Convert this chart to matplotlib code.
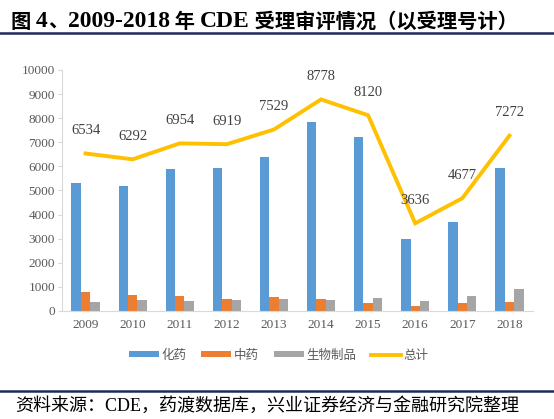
import numpy as np
import matplotlib
matplotlib.use("Agg")
from matplotlib import pyplot as plt
from matplotlib.lines import Line2D

plt.rcParams['font.family'] = ['Liberation Serif', 'Noto Sans CJK SC', 'DejaVu Sans']

years = ['2009', '2010', '2011', '2012', '2013', '2014', '2015', '2016', '2017', '2018']
chem = [5323, 5174, 5892, 5947, 6403, 7842, 7220, 2988, 3707, 5946]
tcm = [775, 664, 622, 512, 595, 484, 346, 221, 318, 373]
bio = [373, 456, 415, 456, 512, 443, 540, 415, 622, 899]
total = [6534, 6292, 6954, 6919, 7529, 8778, 8120, 3636, 4677, 7272]
series_names = ['化药', '中药', '生物制品', '总计']

# title pieces: (text, is_cjk)
title_parts = [('图', True), (' 4', False), ('、', True), ('2009-2018', False),
               (' 年 ', True), ('CDE', False), (' 受理审评情况（以受理号计）', True)]
source = '资料来源：CDE，药渡数据库，兴业证券经济与金融研究院整理'

fig = plt.figure(figsize=(5.54, 4.19), dpi=100)
ax = fig.add_axes([0.112, 0.258, 0.85, 0.575])

x = np.arange(len(years))
w = 0.2
b1 = ax.bar(x - w, chem, w, color='#5B9BD5')
b2 = ax.bar(x, tcm, w, color='#ED7D31')
b3 = ax.bar(x + w, bio, w, color='#A5A5A5')
ln, = ax.plot(x, total, color='#FFC000', lw=2.8, solid_joinstyle='miter')
for xi, v in zip(x, total):
    ax.annotate(str(v), (xi, v), xytext=(0, 12), textcoords='offset points',
                ha='center', va='bottom', fontsize=10.5, color='#404040')

ax.set_xlim(-0.5, len(years) - 0.5)
ax.set_ylim(0, 10000)
ax.set_yticks(range(0, 10001, 1000))
ax.set_xticks(x)
ax.set_xticklabels(years)
for s in ['top', 'right']:
    ax.spines[s].set_visible(False)
for s in ['left', 'bottom']:
    ax.spines[s].set_color('#D9D9D9')
ax.tick_params(axis='y', length=3, color='#D9D9D9', labelsize=9.5, labelcolor='#595959', pad=2)
ax.tick_params(axis='x', length=0, labelsize=9.5, labelcolor='#595959', pad=6)

leg = fig.legend([b1, b2, b3, ln], series_names,
                 loc='center', bbox_to_anchor=(0.503, 1 - 355 / 419), ncol=4, frameon=False,
                 handlelength=2.4, handleheight=0.45, columnspacing=1.2, handletextpad=0.2,
                 prop={'family': ['Noto Sans CJK SC'], 'size': 9})
for t in leg.get_texts():
    t.set_color('#595959')

# title, built piece by piece so digits and CJK can have different sizes
renderer = fig.canvas.get_renderer()
xpos = 10
ty = 1 - 19 / 419
for txt, cjk in title_parts:
    if cjk:
        t = fig.text(xpos / 554, ty, txt, fontsize=14.6, fontweight='bold', va='center_baseline',
                     ha='left', family=['Noto Sans CJK SC'])
    else:
        t = fig.text(xpos / 554, ty, txt, fontsize=17, fontweight='bold', va='center_baseline',
                     ha='left', family=['Liberation Serif'])
    xpos += t.get_window_extent(renderer).width

fig.add_artist(Line2D([0, 1], [1 - 33 / 419, 1 - 33 / 419], color='#1F2A5C', lw=1.8))
fig.add_artist(Line2D([0, 1], [1 - 391 / 419, 1 - 391 / 419], color='#1F2A5C', lw=1.8))
fig.text(0.027, 1 - 406 / 419, source, fontsize=13, va='center', ha='left')

fig.savefig('out.png', dpi=100)
